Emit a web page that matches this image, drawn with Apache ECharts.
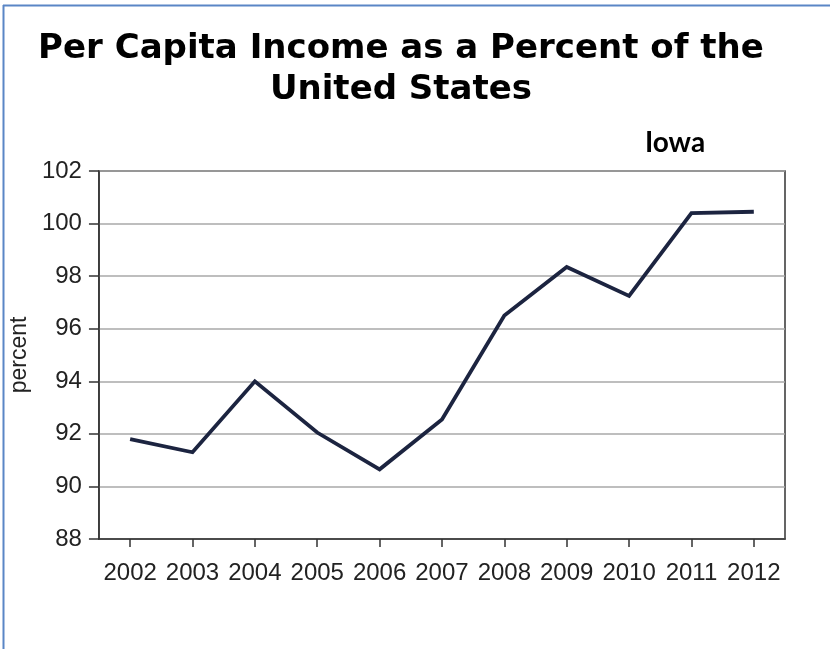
<!DOCTYPE html>
<html>
<head>
<meta charset="utf-8">
<style>
  html, body { margin: 0; padding: 0; background: #fff; }
  #chart { width: 830px; height: 649px; }
</style>
<script src="https://cdn.jsdelivr.net/npm/echarts@6/dist/echarts.min.js"></script>
</head>
<body>
<div id="chart"></div>
<script>
// Years on the horizontal axis
const years = ['2002', '2003', '2004', '2005', '2006', '2007', '2008', '2009', '2010', '2011', '2012'];
// Iowa per capita income as a percent of the U.S. figure
const iowaPercent = [91.8, 91.3, 94.0, 92.05, 90.65, 92.55, 96.5, 98.35, 97.25, 100.4, 100.45];
// Value axis range
const yMin = 88;
const yMax = 102;
const yStep = 2;

const chart = echarts.init(document.getElementById('chart'), null, { renderer: 'canvas' });

const axisFont = 'Liberation Sans, Arial, sans-serif';

chart.setOption({
  animation: false,
  backgroundColor: '#ffffff',
  title: [
    {
      text: 'Per Capita Income as a Percent of the\nUnited States',
      left: 396,
      top: 24,
      textAlign: 'center',
      textStyle: {
        fontFamily: 'DejaVu Sans, Verdana, sans-serif',
        fontWeight: 'bold',
        fontSize: 34,
        lineHeight: 41,
        color: '#000000'
      }
    },
    {
      text: 'Iowa',
      left: 670,
      top: 124,
      textAlign: 'center',
      textStyle: {
        fontFamily: 'Lato, Open Sans, sans-serif',
        fontWeight: 'bold',
        fontSize: 28,
        color: '#000000'
      }
    }
  ],
  grid: {
    left: 98,
    top: 171,
    width: 687,
    height: 368,
    show: true,
    borderColor: '#333333',
    borderWidth: 1.5,
    backgroundColor: 'transparent'
  },
  xAxis: {
    type: 'category',
    data: years,
    boundaryGap: true,
    axisLine: { show: true, lineStyle: { color: '#333333', width: 1.5 } },
    axisTick: { show: true, alignWithLabel: true, interval: 0, length: 8, lineStyle: { color: '#333333', width: 1.5 } },
    axisLabel: { interval: 0, margin: 22, fontSize: 24, color: '#222222', fontFamily: axisFont },
    splitLine: { show: false }
  },
  yAxis: {
    type: 'value',
    min: yMin,
    max: yMax,
    interval: yStep,
    name: 'percent',
    nameLocation: 'middle',
    nameRotate: 90,
    nameGap: 58,
    nameTextStyle: { fontSize: 23, color: '#222222', fontFamily: axisFont },
    axisLine: { show: true, lineStyle: { color: '#333333', width: 1.5 } },
    axisTick: { show: true, length: 10, lineStyle: { color: '#333333', width: 1.5 } },
    axisLabel: { margin: 17, fontSize: 24, color: '#222222', fontFamily: axisFont },
    splitLine: { show: true, lineStyle: { color: '#a8a8a8', width: 1.5 } }
  },
  series: [
    {
      type: 'line',
      data: iowaPercent,
      symbol: 'none',
      lineStyle: { color: '#1c2440', width: 3.8, join: 'miter' }
    }
  ],
  graphic: [
    // page frame: left and top edges
    {
      type: 'line',
      shape: { x1: 3.5, y1: 5, x2: 3.5, y2: 649 },
      style: { stroke: '#5a86c6', lineWidth: 2 },
      silent: true
    },
    {
      type: 'line',
      shape: { x1: 3, y1: 5.5, x2: 830, y2: 5.5 },
      style: { stroke: '#5a86c6', lineWidth: 2 },
      silent: true
    }
  ]
});
</script>
</body>
</html>
